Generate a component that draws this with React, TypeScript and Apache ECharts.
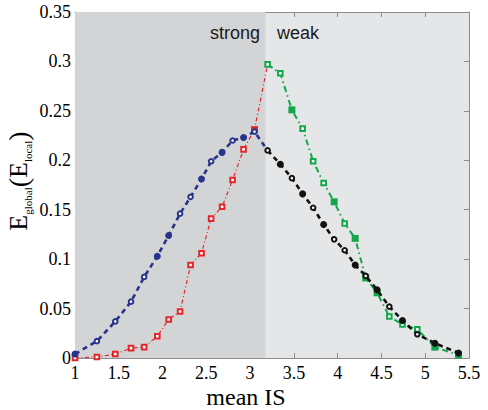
import React, { useEffect, useRef } from "react";
import * as echarts from "echarts";

// ---- data ----
const strongX = [1.0, 1.25, 1.46, 1.64, 1.79, 1.94, 2.07, 2.2, 2.32, 2.445, 2.555, 2.68, 2.8, 2.925, 3.05];
const blueY = [0.004, 0.017, 0.037, 0.057, 0.082, 0.103, 0.124, 0.146, 0.163, 0.181, 0.199, 0.208, 0.22, 0.223, 0.229];
const blueFilled = [1, 0, 0, 0, 0, 1, 1, 0, 0, 1, 0, 1, 0, 1, 0];
const redY = [0.0, 0.001, 0.004, 0.01, 0.011, 0.022, 0.039, 0.047, 0.094, 0.106, 0.141, 0.153, 0.18, 0.211, 0.231];
const redFilled = [0, 0, 0, 0, 0, 0, 0, 0, 0, 0, 0, 0, 0, 0, 1];

const weakX = [3.2, 3.345, 3.477, 3.6, 3.72, 3.84, 3.96, 4.08, 4.2, 4.32, 4.45, 4.59, 4.74, 4.91, 5.11, 5.38];
const greenY = [0.297, 0.288, 0.251, 0.232, 0.199, 0.177, 0.158, 0.136, 0.121, 0.081, 0.066, 0.042, 0.034, 0.029, 0.011, 0.003];
const greenFilled = [0, 0, 1, 0, 0, 0, 1, 0, 1, 1, 1, 0, 0, 0, 1, 1];
const blackY = [0.21, 0.196, 0.182, 0.166, 0.152, 0.135, 0.12, 0.109, 0.094, 0.083, 0.069, 0.052, 0.038, 0.024, 0.015, 0.005];
const blackFilled = [0, 1, 0, 1, 0, 1, 0, 0, 1, 0, 1, 0, 1, 0, 1, 1];

const regimeSplit = 3.175;
const regimeLabels = ["strong", "weak"];
const xTickMin = 1, xTickMax = 5.5, xTickStep = 0.5;
const yTickMin = 0, yTickMax = 0.35, yTickStep = 0.05;

const SERIF = "Liberation Serif";
const SANS = "Liberation Sans";
const AXIS_GRAY = "#8c8c8c";

function pts(xs: number[], ys: number[], filled: number[], shape: string, color: string, border: number) {
  return xs.map((x, i) => ({
    value: [x, ys[i]],
    symbol: filled[i] ? shape : shape === "circle" ? "emptyCircle" : "emptyRect",
    symbolSize: filled[i] ? 7 : 4.6,
    itemStyle: filled[i]
      ? { color, borderColor: color, borderWidth: 0 }
      : { color, borderColor: color, borderWidth: border },
  }));
}

export default function App() {
  const ref = useRef<HTMLDivElement>(null);
  useEffect(() => {
    if (!ref.current) return;
    const chart = echarts.init(ref.current, undefined, { renderer: "svg" });
    const blue = "#27348b";
    const red = "#e3262b";
    const green = "#12a84a";
    const black = "#111111";

    const blueData: any[] = pts(strongX, blueY, blueFilled, "circle", blue, 1.8);
    blueData.push({ value: [weakX[0], blackY[0]], symbol: "none" });
    const redData: any[] = pts(strongX, redY, redFilled, "rect", red, 1.4);
    redData.push({ value: [weakX[0], greenY[0]], symbol: "none" });

    const tickLabel = {
      color: "#000", fontFamily: SERIF, fontSize: 18,
      formatter: (v: number) => String(parseFloat(v.toFixed(2))),
    };

    const option: any = {
      animation: false,
      grid: {
        left: 75, right: 19, top: 12, bottom: 52,
        show: true, backgroundColor: "#e5e6e8", borderWidth: 0,
      },
      xAxis: [
        {
          type: "value", min: xTickMin, max: xTickMax, interval: xTickStep,
          axisLine: { show: true, onZero: false, lineStyle: { color: AXIS_GRAY, width: 1 } },
          axisTick: { show: true, inside: true, length: 5, lineStyle: { color: AXIS_GRAY } },
          splitLine: { show: false },
          axisLabel: { ...tickLabel, margin: 6 },
        },
        {
          type: "value", position: "top", min: xTickMin, max: xTickMax, interval: xTickStep,
          axisLine: { show: true, onZero: false, lineStyle: { color: AXIS_GRAY, width: 1 } },
          axisTick: { show: true, inside: true, length: 5, lineStyle: { color: AXIS_GRAY } },
          splitLine: { show: false }, axisLabel: { show: false },
        },
      ],
      yAxis: [
        {
          type: "value", min: yTickMin, max: yTickMax, interval: yTickStep,
          axisLine: { show: true, onZero: false, lineStyle: { color: AXIS_GRAY, width: 1 } },
          axisTick: { show: true, inside: true, length: 5, lineStyle: { color: AXIS_GRAY } },
          splitLine: { show: false },
          axisLabel: { ...tickLabel, margin: 4 },
        },
        {
          type: "value", position: "right", min: yTickMin, max: yTickMax, interval: yTickStep,
          axisLine: { show: true, onZero: false, lineStyle: { color: AXIS_GRAY, width: 1 } },
          axisTick: { show: true, inside: true, length: 5, lineStyle: { color: AXIS_GRAY } },
          splitLine: { show: false }, axisLabel: { show: false },
        },
      ],
      series: [
        {
          type: "line", data: [], z: 0,
          markArea: {
            silent: true,
            itemStyle: { color: "#d3d4d6" },
            data: [[{ xAxis: xTickMin }, { xAxis: regimeSplit }]],
          },
        },
        {
          type: "line", name: "red", z: 3, data: redData,
          lineStyle: { color: red, width: 1.2, type: [4, 2.5, 1, 2.5] },
          itemStyle: { color: red },
        },
        {
          type: "line", name: "blue", z: 4, data: blueData,
          lineStyle: { color: blue, width: 2.6, type: [5, 4] },
          itemStyle: { color: blue },
        },
        {
          type: "line", name: "green", z: 3, data: pts(weakX, greenY, greenFilled, "rect", green, 1.8),
          lineStyle: { color: green, width: 2, type: [6, 3.5, 1.5, 3.5] },
          itemStyle: { color: green },
        },
        {
          type: "line", name: "black", z: 4, data: pts(weakX, blackY, blackFilled, "circle", black, 1.8),
          lineStyle: { color: black, width: 2.6, type: [5, 4] },
          itemStyle: { color: black },
        },
      ],
      graphic: [
        { type: "text", z: 100, x: 235, y: 33, style: { text: regimeLabels[0], font: `18px ${SANS}`, fill: "#1a1a1a", align: "center", verticalAlign: "middle" } },
        { type: "text", z: 100, x: 298, y: 33, style: { text: regimeLabels[1], font: `18px ${SANS}`, fill: "#1a1a1a", align: "center", verticalAlign: "middle" } },
        { type: "text", z: 100, x: 246, y: 397, style: { text: "mean IS", font: `24px ${SERIF}`, fill: "#000", align: "center", verticalAlign: "middle" } },
        {
          type: "text", z: 100, x: 18, y: 181, rotation: Math.PI / 2,
          style: {
            text: "{e|E}{s|global}{p|(}{e|E}{s|local}{p|)}",
            align: "center", verticalAlign: "middle", fill: "#000",
            rich: {
              e: { fontFamily: SERIF, fontSize: 26, lineHeight: 30, fill: "#000" },
              s: { fontFamily: SERIF, fontSize: 11, lineHeight: 11, verticalAlign: "bottom", fill: "#000" },
              p: { fontFamily: SERIF, fontSize: 28, lineHeight: 30, fill: "#000" },
            },
          },
        },
      ],
    };
    chart.setOption(option);
    return () => chart.dispose();
  }, []);
  return <div ref={ref} style={{ width: 488, height: 410, position: "absolute", left: 0, top: 0 }} />;
}
